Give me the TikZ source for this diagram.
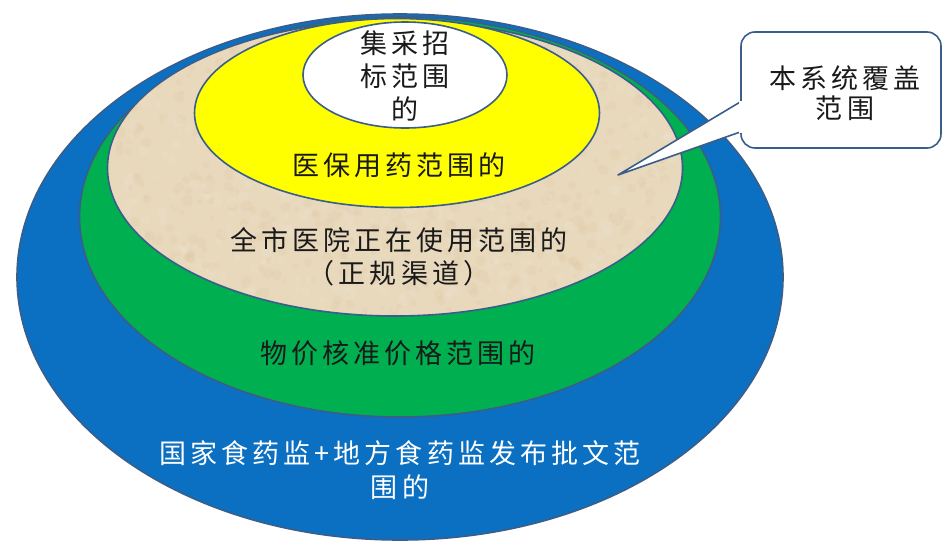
\documentclass[tikz,border=0pt]{standalone}
\usepackage{fontspec}
\newfontfamily\cjkfont[LetterSpace=15]{Noto Sans CJK SC}
\usetikzlibrary{shapes.geometric}

\definecolor{rimblue}{HTML}{3A5D8A}
\definecolor{ringblue}{HTML}{0B70C2}
\definecolor{ringgreen}{HTML}{00B050}
\definecolor{ringsand}{HTML}{E8D8BC}
\definecolor{ringyellow}{HTML}{FFFF00}
\definecolor{textdark}{HTML}{1A1A1A}

\begin{document}
\begin{tikzpicture}[x=1pt,y=-1pt,
    ring/.style={ellipse,draw=rimblue,line width=1.6pt,inner sep=0},
    ringtext/.style={font=\cjkfont\fontsize{27}{33}\selectfont,align=center,text=textdark,inner sep=0},
    notebox/.style={draw=rimblue,line width=1.6pt,fill=white,rounded corners=14pt,minimum width=200pt,minimum height=116pt}]

\useasboundingbox (0,0) rectangle (942,541);

% nested rings, outside in

\node (blueRing) at (400,277) [ring,fill=ringblue,minimum width=766pt,minimum height=526pt] {};
\node (greenRing) at (400,217) [ring,fill=ringgreen,minimum width=641pt,minimum height=400pt] {};
\node (sandRing) at (395,168) [ring,fill=ringsand,minimum width=575pt,minimum height=296pt] {};

\begin{scope}
    \clip (395,168) ellipse [x radius=286,y radius=146];
    \pgfmathsetseed{11}
    \foreach \i in {1,...,700}
        \fill [brown!70!ringsand,opacity=0.05]
            ({395+280*rand},{168+145*rand}) circle ({2+4*rnd});
    \foreach \i in {1,...,500}
        \fill [white,opacity=0.08]
            ({395+280*rand},{168+145*rand}) circle ({2+4*rnd});
\end{scope}

\node (yellowRing) at (397,113) [ring,fill=ringyellow,minimum width=405pt,minimum height=189pt] {};
\node (whiteRing) at (405,75) [ring,fill=white,minimum width=204pt,minimum height=106pt] {};

% ring texts

\node (whiteText) at (405,76) [ringtext] {集采招\\标范围\\的};
\node (yellowText) at (399,165) [ringtext] {医保用药范围的};
\node (sandText) at (399,257) [ringtext] {全市医院正在使用范围的\\（正规渠道）};
\node (greenText) at (398,353) [ringtext] {物价核准价格范围的};
\node (blueText) at (400,470) [ringtext,text=white,font=\cjkfont\fontsize{27}{34}\selectfont] {国家食药监+地方食药监发布批文范\\围的};

% callout

\node (noteBox) at (841,90) [notebox] {};
\node (noteText) at (845,93) [ringtext,font=\cjkfont\fontsize{27}{30}\selectfont] {本系统覆盖\\范围};

\coordinate (noteTip) at (618,175);
\coordinate (noteTop) at (noteBox.west |- 0,102);
\coordinate (noteLow) at (noteBox.west |- 0,132);

\draw [rimblue,line width=1.6pt,fill=white,line join=round] (noteTop) -- (noteTip) -- (noteLow);
\fill [white] ([xshift=-1.5pt,yshift=1pt]noteTop) rectangle ([xshift=1.5pt,yshift=-1pt]noteLow);

\end{tikzpicture}
\end{document}
